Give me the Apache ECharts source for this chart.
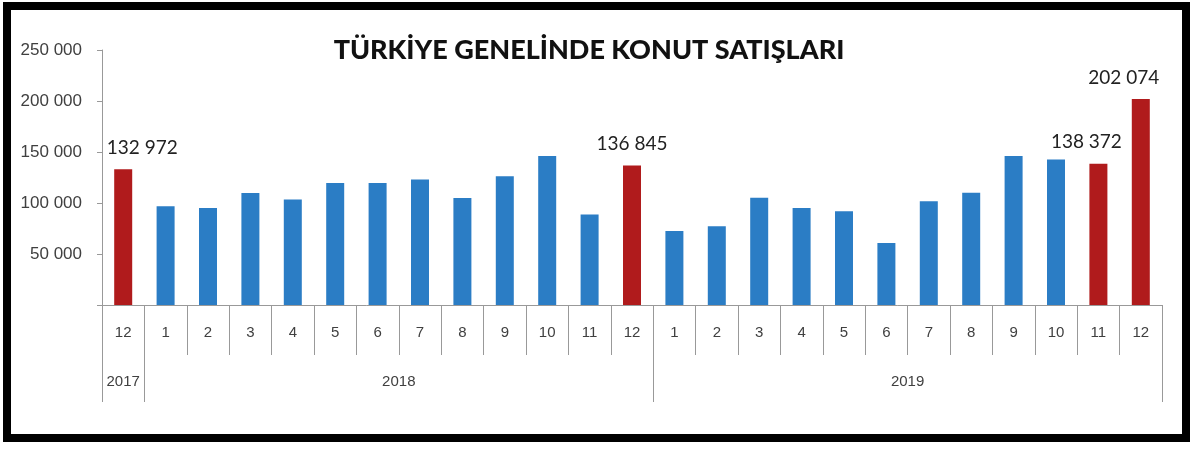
<!DOCTYPE html>
<html>
<head>
<meta charset="utf-8">
<script src="https://cdn.jsdelivr.net/npm/echarts@6/dist/echarts.min.js"></script>
<style>
  html, body { margin: 0; padding: 0; background: #fff; }
  #chart { width: 1200px; height: 452px; }
</style>
</head>
<body>
<div id="chart"></div>
<script>
// aylar ve yıllar
var months = ['12', '1', '2', '3', '4', '5', '6', '7', '8', '9', '10', '11', '12',
              '1', '2', '3', '4', '5', '6', '7', '8', '9', '10', '11', '12'];
var monthYears = ['2017', '2018', '2018', '2018', '2018', '2018', '2018', '2018', '2018', '2018', '2018', '2018', '2018',
                  '2019', '2019', '2019', '2019', '2019', '2019', '2019', '2019', '2019', '2019', '2019', '2019'];
// konut satışları
var sales = [132972, 96900, 95200, 109900, 103400, 119700, 119700, 123100, 105000, 126300, 146000, 88800, 136845,
             72500, 77200, 105100, 95200, 91900, 60800, 101700, 110000, 146000, 142700, 138372, 202074];
// kırmızı gösterilen aylar (etiketli)
var highlighted = [0, 12, 23, 24];
var yTicks = [0, 50000, 100000, 150000, 200000, 250000];

function fmt(v) {
    return String(v).replace(/\B(?=(\d{3})+(?!\d))/g, ' ');
}

// yıl sınırları ve orta noktaları
var yearBounds = [0];
var yearMids = [];
var yearNames = [];
var start = 0;
for (var i = 1; i <= monthYears.length; i++) {
    if (i === monthYears.length || monthYears[i] !== monthYears[i - 1]) {
        yearBounds.push(i);
        yearMids.push((start + i) / 2);
        yearNames.push(monthYears[start]);
        start = i;
    }
}
// ay sınırları (her kategori arası)
var monthBounds = months.map(function (m, i) { return i; }).concat([months.length]);

var labelShift = { 0: 19, 12: 0, 23: -12, 24: -17 };

var barData = sales.map(function (v, i) {
    var hi = highlighted.indexOf(i) >= 0;
    var item = {
        value: v,
        itemStyle: { color: hi ? '#B01B1C' : '#2B7DC5' }
    };
    if (hi) {
        item.label = {
            show: true,
            position: 'top',
            distance: 12,
            offset: [labelShift[i], 0],
            formatter: function (p) { return fmt(p.value); },
            fontFamily: 'Lato',
            fontSize: 19,
            color: '#222'
        };
    }
    return item;
});

var myChart = echarts.init(document.getElementById('chart'));
myChart.setOption({
    backgroundColor: '#fff',
    animation: false,
    title: {
        text: 'TÜRKİYE GENELİNDE KONUT SATIŞLARI',
        left: 584,
        top: 32,
        textAlign: 'center',
        textStyle: { fontFamily: 'Lato', fontWeight: 900, fontSize: 27, color: '#111' }
    },
    graphic: [{
        type: 'rect',
        shape: { x: 7, y: 6, width: 1179, height: 432 },
        style: { fill: null, stroke: '#000', lineWidth: 8 },
        silent: true
    }],
    grid: { left: 102, right: 38, top: 50, height: 255 },
    xAxis: [{
        type: 'category',
        data: months,
        boundaryGap: true,
        axisLine: { lineStyle: { color: '#999' } },
        axisTick: { show: false },
        axisLabel: {
            interval: 0, margin: 20,
            fontFamily: 'Liberation Sans', fontSize: 15, color: '#404040'
        }
    }, {
        // ay ayırıcı çizgileri
        type: 'value',
        position: 'bottom',
        offset: 0,
        min: 0,
        max: months.length,
        axisLine: { show: false },
        splitLine: { show: false },
        axisTick: { show: true, customValues: monthBounds, length: 50, lineStyle: { color: '#999' } },
        axisLabel: { show: false }
    }, {
        // yıl satırı
        type: 'value',
        position: 'bottom',
        offset: 50,
        min: 0,
        max: months.length,
        axisLine: { show: false },
        splitLine: { show: false },
        axisTick: { show: true, customValues: yearBounds, length: 47, lineStyle: { color: '#999' } },
        axisLabel: {
            customValues: yearMids,
            margin: 19,
            formatter: function (v) { return yearNames[yearMids.indexOf(v)] || ''; },
            fontFamily: 'Liberation Sans', fontSize: 15, color: '#404040'
        }
    }],
    yAxis: {
        type: 'value',
        min: 0,
        max: 250000,
        interval: 50000,
        axisLine: { show: true, lineStyle: { color: '#999' } },
        axisTick: { show: true, length: 5, lineStyle: { color: '#999' } },
        splitLine: { show: false },
        axisLabel: {
            margin: 20,
            formatter: function (v) { return v === yTicks[0] ? '' : fmt(v); },
            fontFamily: 'Liberation Sans', fontSize: 17, color: '#404040'
        }
    },
    series: [{
        type: 'bar',
        data: barData,
        barWidth: 18
    }]
});
</script>
</body>
</html>
